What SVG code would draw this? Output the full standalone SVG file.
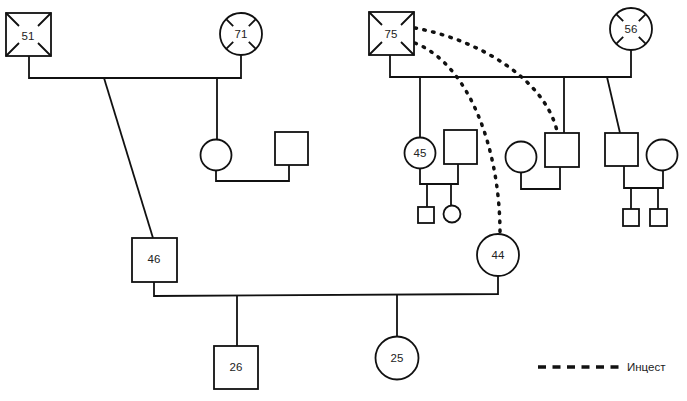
<svg xmlns="http://www.w3.org/2000/svg" width="687" height="401" viewBox="0 0 687 401">
<style>
.s{fill:#fff;stroke:#111;stroke-width:1.8}
.l{fill:none;stroke:#111;stroke-width:1.8}
.t{font-family:"Liberation Sans",Arial,sans-serif;font-size:11.5px;fill:#222;text-anchor:middle}
.inc{fill:none;stroke:#111;stroke-width:3.5;stroke-linecap:round;stroke-dasharray:1.5 7.5}
.leg{fill:none;stroke:#111;stroke-width:3.5;stroke-dasharray:8 6.5}
</style>
<rect width="687" height="401" fill="#fff"/>
<g id="connectors">
<polyline class="l" points="29,56 29,78 241,78 241,55"/>
<line class="l" x1="104" y1="78" x2="153" y2="238"/>
<line class="l" x1="217" y1="78" x2="217" y2="140"/>
<polyline class="l" points="216,170 216,181 289,181 289,165"/>
<polyline class="l" points="390,55 390,77 631,77 631,50"/>
<line class="l" x1="420" y1="77" x2="420" y2="138"/>
<polyline class="l" points="420,169 420,184 458,184 458,164"/>
<line class="l" x1="427" y1="184" x2="427" y2="207"/>
<line class="l" x1="451" y1="184" x2="451" y2="206"/>
<line class="l" x1="564" y1="77" x2="564" y2="133"/>
<polyline class="l" points="521,172 521,189 560,189 560,167"/>
<line class="l" x1="607" y1="77" x2="620" y2="133"/>
<polyline class="l" points="624,166 624,188 663,188 663,171"/>
<line class="l" x1="631" y1="188" x2="631" y2="209"/>
<line class="l" x1="658" y1="188" x2="658" y2="209"/>
<polyline class="l" points="154,282 154,296 498,294 498,276"/>
<line class="l" x1="237" y1="296" x2="237" y2="346"/>
<line class="l" x1="397" y1="295" x2="397" y2="337"/>
<path class="inc" d="M415,28 C480,40 545,80 557,131"/>
<path class="inc" d="M415,43 C470,65 500,150 500,233"/>
</g>
<g id="n51">
<rect class="s" x="6" y="13" width="45" height="43"/>
<path class="l" d="M6,13 L19,26 M51,13 L38,26 M6,56 L19,43 M51,56 L38,43"/>
<text class="t" x="28" y="40">51</text>
</g>
<g id="n71">
<circle class="s" cx="241" cy="34" r="21"/>
<path class="l" d="M226.2,19.2 L233.2,26.2 M255.8,19.2 L248.8,26.2 M226.2,48.8 L233.2,41.8 M255.8,48.8 L248.8,41.8"/>
<text class="t" x="241" y="38">71</text>
</g>
<g id="n75">
<rect class="s" x="369" y="12" width="45" height="43"/>
<path class="l" d="M369,12 L382,25 M414,12 L401,25 M369,55 L382,42 M414,55 L401,42"/>
<text class="t" x="391" y="38">75</text>
</g>
<g id="n56">
<circle class="s" cx="631" cy="29" r="21"/>
<path class="l" d="M616.2,14.2 L623.2,21.2 M645.8,14.2 L638.8,21.2 M616.2,43.8 L623.2,36.8 M645.8,43.8 L638.8,36.8"/>
<text class="t" x="631" y="33">56</text>
</g>
<g id="f1"><circle class="s" cx="216" cy="155" r="15.5"/></g>
<g id="m1"><rect class="s" x="275" y="132" width="33" height="33"/></g>
<g id="n45">
<circle class="s" cx="420" cy="153" r="15.5"/>
<text class="t" x="420" y="157">45</text>
</g>
<g id="m2"><rect class="s" x="444" y="130" width="33" height="34"/></g>
<g id="c1"><rect class="s" x="418" y="207" width="16" height="16"/></g>
<g id="c2"><circle class="s" cx="452" cy="214" r="8.5"/></g>
<g id="f2"><circle class="s" cx="521" cy="157" r="15.5"/></g>
<g id="m3"><rect class="s" x="545" y="133" width="34" height="34"/></g>
<g id="m4"><rect class="s" x="605" y="133" width="33" height="33"/></g>
<g id="f3"><circle class="s" cx="662" cy="155" r="15.5"/></g>
<g id="c3"><rect class="s" x="623" y="209" width="16" height="17"/></g>
<g id="c4"><rect class="s" x="650" y="209" width="17" height="17"/></g>
<g id="n46">
<rect class="s" x="132" y="238" width="45" height="44"/>
<text class="t" x="154" y="263">46</text>
</g>
<g id="n44">
<circle class="s" cx="498" cy="255" r="21"/>
<text class="t" x="498" y="259">44</text>
</g>
<g id="n26">
<rect class="s" x="214" y="346" width="44" height="43"/>
<text class="t" x="236" y="371">26</text>
</g>
<g id="n25">
<circle class="s" cx="397" cy="358" r="21.5"/>
<text class="t" x="397" y="362">25</text>
</g>
<g id="legend">
<line class="leg" x1="538" y1="367" x2="621" y2="367"/>
<text x="627" y="371" style="font-family:'Liberation Sans Narrow','Liberation Sans',Arial,sans-serif;font-size:11.5px;fill:#222">Инцест</text>
</g>
</svg>
